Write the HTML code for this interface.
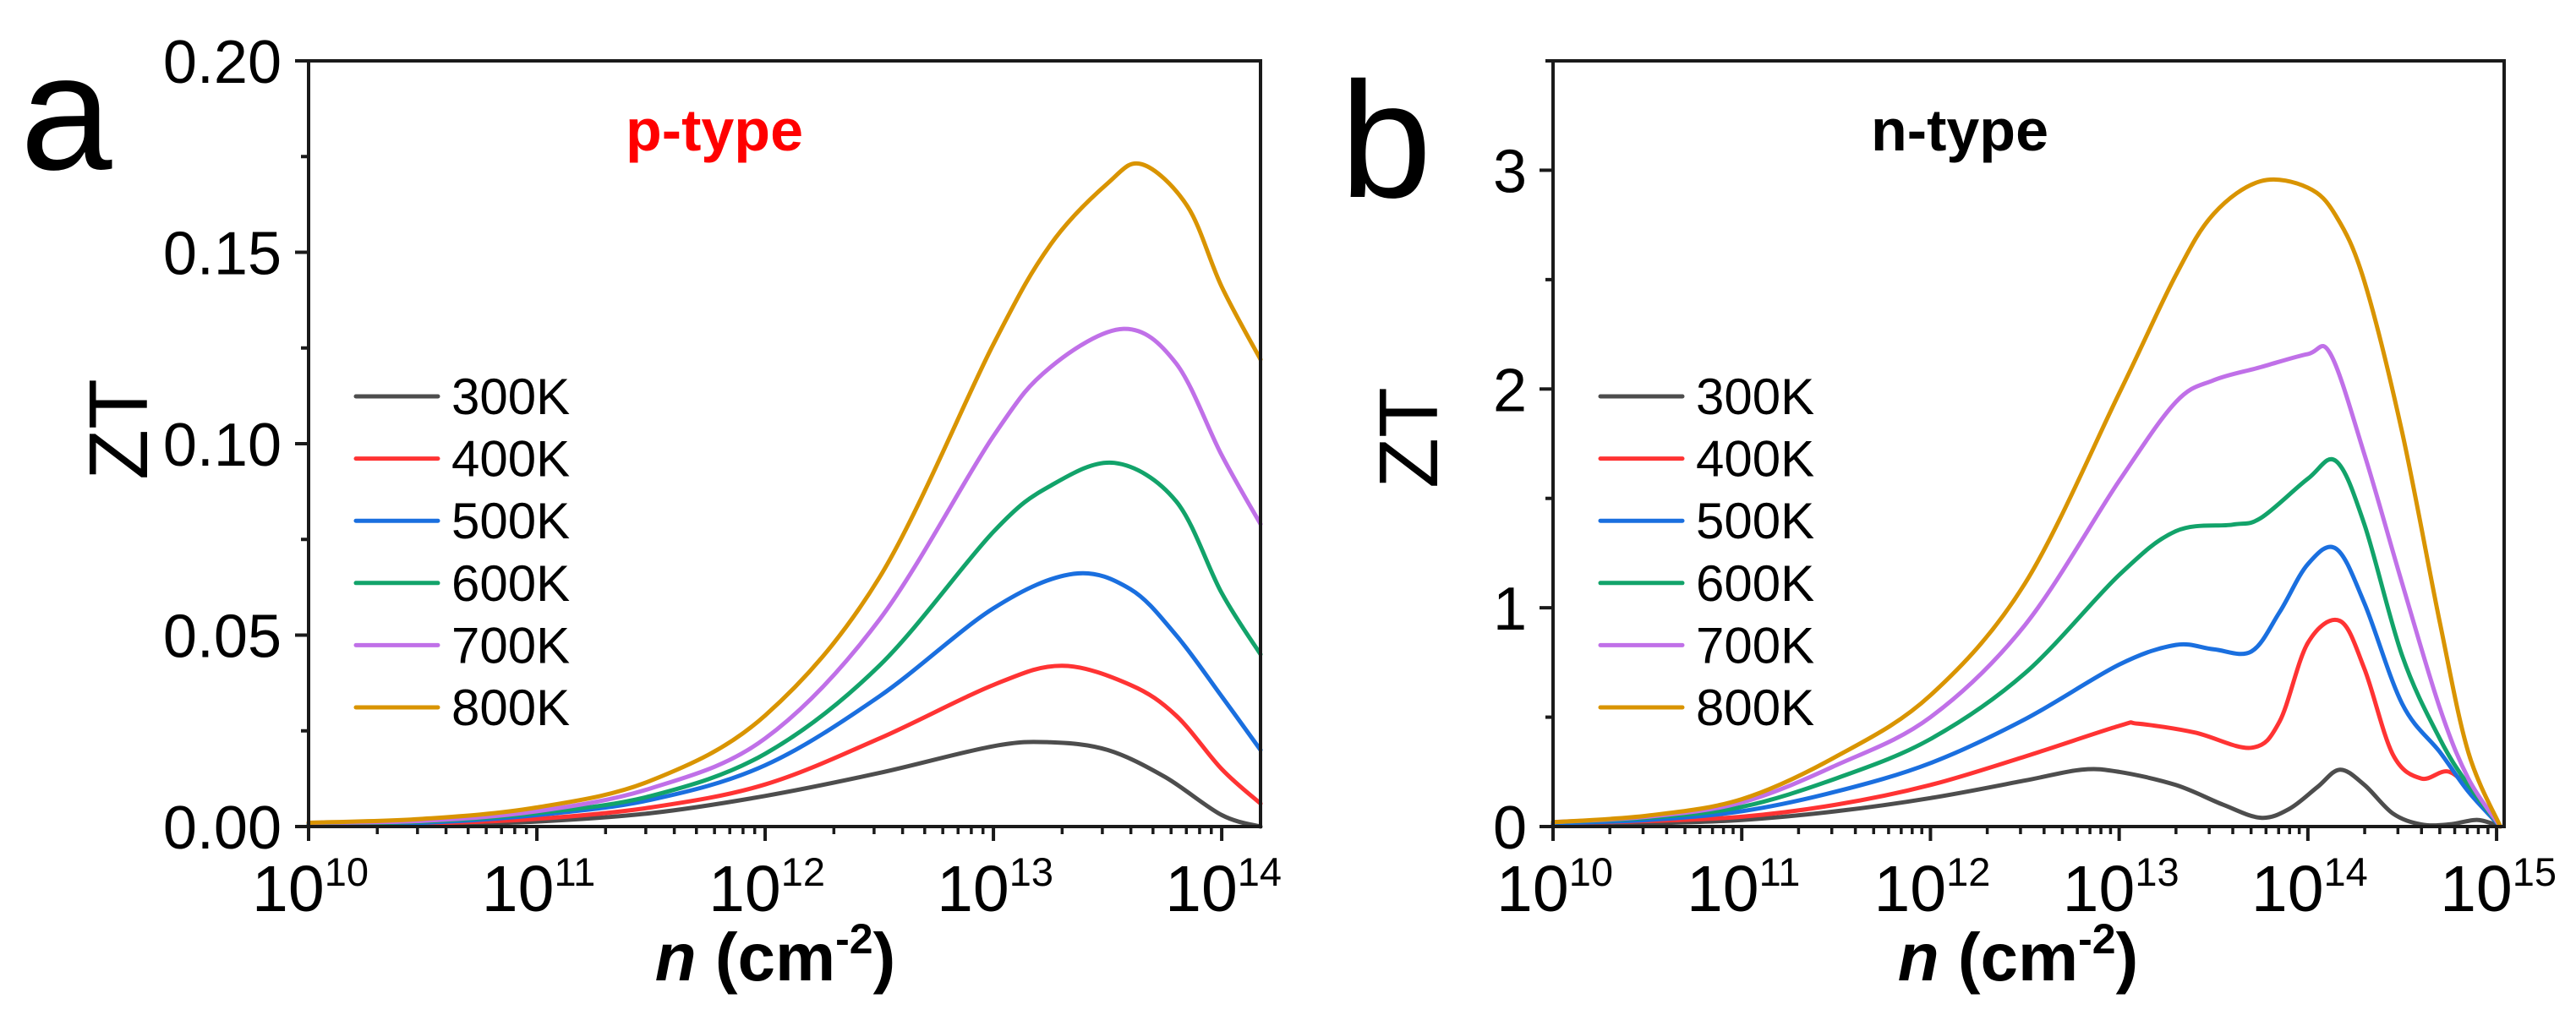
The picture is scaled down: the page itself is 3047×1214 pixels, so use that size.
<!DOCTYPE html>
<html><head><meta charset="utf-8"><style>
html,body{margin:0;padding:0;background:#fff;}
svg{display:block;font-family:"Liberation Sans",Arial,sans-serif;}
</style></head><body>
<svg id="fig" width="3047" height="1214" viewBox="0 0 3047 1214">
  <g id="pa"></g>
  <g id="pb"></g>
</svg>
<script>
// ---- data ----
const seriesLabels = ["300K","400K","500K","600K","700K","800K"];
const seriesColors = ["#4d4d4d","#ff3333","#1a6fdf","#12a36a","#c070e8","#d99400"];

// panel a (p-type): log10(n) and ZT
const aX300 = [10,10.5,11,11.5,12,12.5,13,13.25,13.5,13.75,14,14.17];
const aY300 = [0.0002,0.0005,0.0013,0.0035,0.008,0.014,0.021,0.022,0.020,0.013,0.003,0.0];
const aX400 = [10,10.5,11,11.5,12,12.5,13,13.3,13.6,13.8,14,14.17];
const aY400 = [0.0004,0.0008,0.002,0.005,0.011,0.023,0.037,0.042,0.037,0.029,0.015,0.006];
const aX500 = [10,10.5,11,11.5,12,12.5,13,13.35,13.6,13.8,14,14.17];
const aY500 = [0.0006,0.001,0.003,0.007,0.016,0.034,0.057,0.066,0.062,0.050,0.034,0.020];
const aX600 = [10,10.5,11,11.5,12,12.5,13,13.25,13.53,13.8,14,14.17];
const aY600 = [0.0008,0.0013,0.0035,0.008,0.019,0.042,0.077,0.089,0.095,0.085,0.061,0.045];
const aX700 = [10,10.5,11,11.5,12,12.5,13,13.25,13.57,13.8,14,14.17];
const aY700 = [0.001,0.0015,0.004,0.010,0.023,0.054,0.102,0.120,0.130,0.121,0.097,0.079];
const aX800 = [10,10.5,11,11.5,12,12.5,13,13.25,13.5,13.65,13.85,14,14.17];
const aY800 = [0.001,0.002,0.005,0.012,0.029,0.065,0.126,0.152,0.168,0.173,0.162,0.141,0.122];

// panel b (n-type)
const bX300 = [10,10.5,11,11.5,12,12.5,12.8,13,13.3,13.55,13.75,13.9,14.05,14.17,14.3,14.45,14.6,14.75,14.9,15.02];
const bY300 = [0.01,0.015,0.03,0.07,0.13,0.21,0.26,0.25,0.19,0.10,0.04,0.08,0.18,0.26,0.19,0.06,0.01,0.01,0.03,0.0];
const bX400 = [10,10.5,11,11.5,12,12.5,13,13.1,13.4,13.7,13.85,14,14.17,14.3,14.45,14.6,14.75,14.9,15.02];
const bY400 = [0.015,0.025,0.045,0.10,0.19,0.32,0.46,0.47,0.43,0.36,0.48,0.84,0.94,0.72,0.33,0.22,0.25,0.13,0.0];
const bX500 = [10,10.5,11,11.5,12,12.5,13,13.3,13.5,13.7,13.85,14,14.15,14.3,14.5,14.7,14.85,15.02];
const bY500 = [0.015,0.03,0.07,0.16,0.29,0.49,0.74,0.83,0.81,0.80,0.98,1.20,1.27,1.02,0.56,0.34,0.16,0.0];
const bX600 = [10,10.5,11,11.5,12,12.5,13,13.3,13.6,13.75,14,14.15,14.3,14.5,14.7,14.85,15.02];
const bY600 = [0.02,0.04,0.09,0.22,0.40,0.70,1.15,1.35,1.38,1.41,1.59,1.67,1.38,0.78,0.40,0.19,0.0];
const bX700 = [10,10.5,11,11.5,12,12.5,13,13.3,13.5,13.75,14,14.12,14.3,14.5,14.7,14.85,15.02];
const bY700 = [0.02,0.045,0.11,0.28,0.50,0.92,1.58,1.94,2.04,2.10,2.16,2.16,1.70,1.11,0.54,0.22,0.0];
const bX800 = [10,10.5,11,11.5,12,12.5,13,13.3,13.5,13.75,14,14.15,14.3,14.5,14.7,14.85,15.02];
const bY800 = [0.02,0.05,0.125,0.32,0.60,1.11,1.98,2.52,2.80,2.95,2.92,2.79,2.49,1.80,0.93,0.34,0.0];

const aYTicks = ["0.00","0.05","0.10","0.15","0.20"];
const aYTickVals = [0,0.05,0.10,0.15,0.20];
const bYTicks = ["0","1","2","3"];
const bYTickVals = [0,1,2,3];
const aXDecades = [10,11,12,13,14];
const bXDecades = [10,11,12,13,14,15];

const NS = "http://www.w3.org/2000/svg";
function mk(parent, tag, attrs){
  const e = document.createElementNS(NS, tag);
  for (const k in attrs) e.setAttribute(k, attrs[k]);
  parent.appendChild(e);
  return e;
}
function smoothPath(pts){
  let d = "M" + pts[0][0].toFixed(1) + "," + pts[0][1].toFixed(1);
  for (let i = 0; i < pts.length - 1; i++){
    const p0 = pts[Math.max(i-1,0)], p1 = pts[i], p2 = pts[i+1], p3 = pts[Math.min(i+2,pts.length-1)];
    const c1x = p1[0] + (p2[0]-p0[0])/6, c1y = p1[1] + (p2[1]-p0[1])/6;
    const c2x = p2[0] - (p3[0]-p1[0])/6, c2y = p2[1] - (p3[1]-p1[1])/6;
    d += " C" + c1x.toFixed(1)+","+c1y.toFixed(1)+" "+c2x.toFixed(1)+","+c2y.toFixed(1)+" "+p2[0].toFixed(1)+","+p2[1].toFixed(1);
  }
  return d;
}

function drawPanel(g, cfg){
  const L = cfg.left, R = cfg.right, T = 72, B = 978;
  const xs = v => L + (v - cfg.xmin) / (cfg.xmax - cfg.xmin) * (R - L);
  const ys = v => B - (v - cfg.ymin) / (cfg.ymax - cfg.ymin) * (B - T);

  for (let s = 0; s < cfg.X.length; s++){
    const pts = cfg.X[s].map((x, i) => [xs(x), ys(cfg.Y[s][i])]);
    const p = mk(g, "path", {d: smoothPath(pts), fill: "none", stroke: seriesColors[s], "stroke-width": 5, "stroke-linejoin": "round", "stroke-linecap": "round"});
    
    
  }

  const fr = mk(g, "rect", {x: L, y: T, width: R - L, height: B - T, fill: "none", stroke: "#1a1a1a", "stroke-width": 4});
  
  

  for (let i = 0; i < cfg.yTickVals.length; i++){
    const y = ys(cfg.yTickVals[i]);
    const t = mk(g, "line", {x1: L - 16, x2: L, y1: y, y2: y, stroke: "#1a1a1a", "stroke-width": 4});
    
    
    const lb = mk(g, "text", {x: cfg.yLabelX, y: y + 26, "text-anchor": "end", "font-size": 72, fill: "#000"});
    lb.textContent = cfg.yTicks[i];
    
    
  }
  for (let v = cfg.ymin + cfg.yMinor; v < cfg.ymax + 1e-9; v += cfg.yMinor * 2){
    const y = ys(v);
    const t = mk(g, "line", {x1: L - 9, x2: L, y1: y, y2: y, stroke: "#1a1a1a", "stroke-width": 4});
    
    
  }

  for (let d = Math.floor(cfg.xmin); d <= cfg.xmax; d++){
    if (d >= cfg.xmin - 1e-9){
      const x = xs(d);
      const t = mk(g, "line", {x1: x, x2: x, y1: B, y2: B + 17, stroke: "#1a1a1a", "stroke-width": 4});
      
      
    }
    for (let m = 2; m <= 9; m++){
      const lv = d + Math.log10(m);
      if (lv > cfg.xmax) break;
      const x = xs(lv);
      const t = mk(g, "line", {x1: x, x2: x, y1: B, y2: B + 9, stroke: "#1a1a1a", "stroke-width": 3.5});
      
      
    }
  }
  for (const d of cfg.xDecades){
    const x = xs(d);
    const lb = mk(g, "text", {x: x + 2, y: 1078, "text-anchor": "middle", "font-size": 77, fill: "#000"});
    
    
    const t1 = mk(lb, "tspan", {});
    t1.textContent = "10";
    const t2 = mk(lb, "tspan", {dy: -30, "font-size": 47});
    t2.textContent = String(d);
  }

  const xt = mk(g, "text", {x: cfg.xTitleX, y: 1160, "text-anchor": "middle", "font-size": 80, "font-weight": "bold", fill: "#000"});
  
  
  const a1 = mk(xt, "tspan", {"font-style": "italic"}); a1.textContent = "n";
  const a2 = mk(xt, "tspan", {}); a2.textContent = " (cm";
  const a3 = mk(xt, "tspan", {dy: -32, "font-size": 50}); a3.textContent = "-2";
  const a4 = mk(xt, "tspan", {dy: 32}); a4.textContent = ")";

  const yt = mk(g, "text", {x: 0, y: 0, "text-anchor": "middle", "font-size": 98, fill: "#000",
    transform: "translate(" + cfg.yTitleX + "," + cfg.yTitleY + ") rotate(-90)"});
  yt.textContent = "ZT";
  
  

  const pl = mk(g, "text", {x: cfg.letterX, y: cfg.letterY, "font-size": 195, fill: "#000"});
  pl.textContent = cfg.letter;
  
  

  const ta = mk(g, "text", {x: cfg.typeX, y: 178, "font-size": 70, "font-weight": "bold", fill: cfg.typeColor});
  ta.textContent = cfg.typeText;
  
  

  const lg = mk(g, "g", {});
  
  
  for (let s = 0; s < seriesLabels.length; s++){
    const y = 469 + s * 73.6;
    const ent = mk(lg, "g", {});
    
    
    mk(ent, "line", {x1: cfg.legX, x2: cfg.legX + 97, y1: y, y2: y, stroke: seriesColors[s], "stroke-width": 5, "stroke-linecap": "round"});
    const tx = mk(ent, "text", {x: cfg.legX + 113, y: y + 21, "font-size": 60, fill: "#000"});
    tx.textContent = seriesLabels[s];
  }
}

drawPanel(document.getElementById("pa"), {
  left: 365, right: 1491, xmin: 10, xmax: 14.17, ymin: 0, ymax: 0.20, yMinor: 0.025,
  X: [aX300,aX400,aX500,aX600,aX700,aX800], Y: [aY300,aY400,aY500,aY600,aY700,aY800],
  yTicks: aYTicks, yTickVals: aYTickVals, yLabelX: 333, xDecades: aXDecades,
  xTitleX: 917, yTitleX: 174, yTitleY: 508, letter: "a", letterX: 24, letterY: 200,
  typeX: 740, typeColor: "#ff0000", typeText: "p-type", legX: 421
});
drawPanel(document.getElementById("pb"), {
  left: 1837, right: 2962, xmin: 10, xmax: 15.04, ymin: 0, ymax: 3.5, yMinor: 0.5,
  X: [bX300,bX400,bX500,bX600,bX700,bX800], Y: [bY300,bY400,bY500,bY600,bY700,bY800],
  yTicks: bYTicks, yTickVals: bYTickVals, yLabelX: 1806, xDecades: bXDecades,
  xTitleX: 2387, yTitleX: 1700, yTitleY: 518, letter: "b", letterX: 1585, letterY: 233,
  typeX: 2213, typeColor: "#000000", typeText: "n-type", legX: 1893
});
</script>
</body></html>
